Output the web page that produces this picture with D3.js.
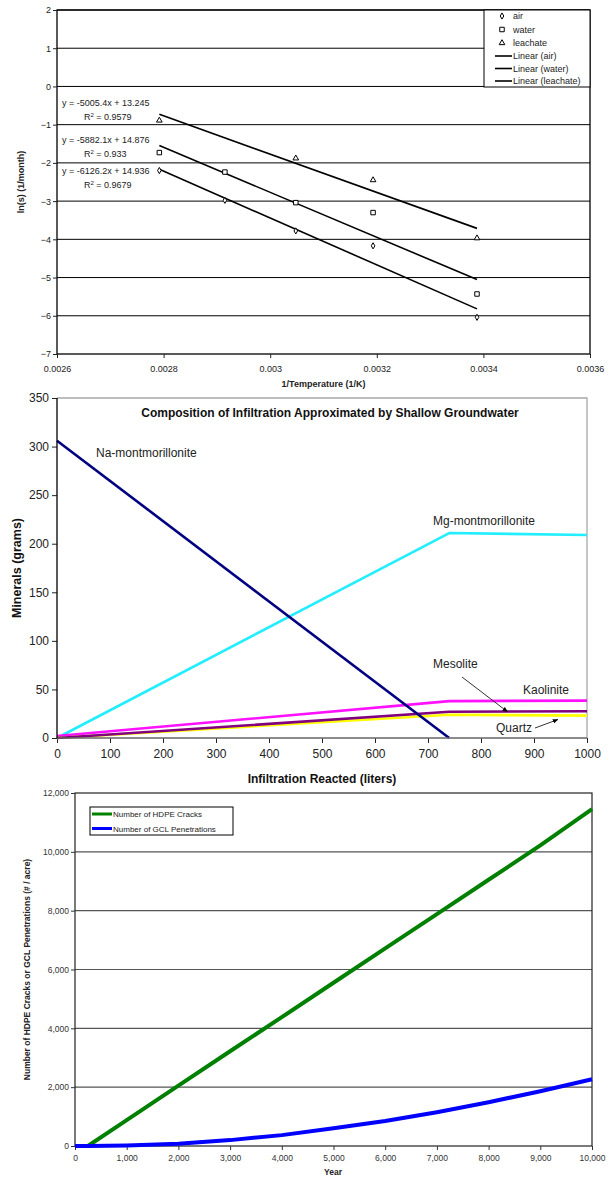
<!DOCTYPE html>
<html lang="en">
<head>
<meta charset="UTF-8">
<title>Rate fits, mineral composition and liner defects</title>
<script src="https://d3js.org/d3.v7.min.js"></script>
<style>
  body { margin: 0; padding: 0; background: #fff; }
  svg { display: block; font-family: "Liberation Sans", Arial, sans-serif; }
  .axis .domain { display: none; }
</style>
</head>
<body>
<svg id="chart" width="616" height="1177"></svg>
<script>
// ---- chart 1: ln(s) vs 1/T
const invTemp = [0.002792, 0.002915, 0.003048, 0.003193, 0.003388];
const airLn = [-2.2, -2.98, -3.78, -4.17, -6.04];
const waterLn = [-1.73, -2.24, -3.04, -3.3, -5.43];
const leachateTemp = [0.002792, 0.003048, 0.003193, 0.003388];
const leachateLn = [-0.89, -1.88, -2.45, -3.97];
const fitNames = ["air", "water", "leachate"];
const fitSlopes = [-6126.2, -5882.1, -5005.4];
const fitIntercepts = [14.936, 14.876, 13.245];
const fitR2 = ["0.9679", "0.933", "0.9579"];
const tempTicks = [0.0026, 0.0028, 0.003, 0.0032, 0.0034, 0.0036];
const lnTicks = [-7, -6, -5, -4, -3, -2, -1, 0, 1, 2];

// ---- chart 2: minerals vs infiltration
const reactedL = [0, 740, 1000];
const naMont = [306, 0];
const mgMont = [0, 211, 209];
const kaolinite = [2, 38, 38.5];
const mesolite = [0, 27, 27.5];
const quartz = [0, 24, 23];
const litreTicks = [0, 100, 200, 300, 400, 500, 600, 700, 800, 900, 1000];
const gramTicks = [0, 50, 100, 150, 200, 250, 300, 350];

// ---- chart 3: cracks / penetrations vs year
const years = [0, 250, 1000, 2000, 3000, 4000, 5000, 6000, 7000, 8000, 9000, 10000];
const hdpeCracks = [0, 0, 880, 2050, 3220, 4380, 5550, 6720, 7880, 9050, 10220, 11450];
const gclPens = [0, 0, 20, 80, 200, 370, 600, 850, 1150, 1490, 1860, 2270];
const yearTicks = [0, 1000, 2000, 3000, 4000, 5000, 6000, 7000, 8000, 9000, 10000];
const countTicks = [0, 2000, 4000, 6000, 8000, 10000, 12000];

const svg = d3.select("#chart");

svg.append("defs").append("marker")
  .attr("id", "arrow")
  .attr("viewBox", "0 0 10 10")
  .attr("refX", 9).attr("refY", 5)
  .attr("markerWidth", 7).attr("markerHeight", 7)
  .attr("orient", "auto")
  .append("path").attr("d", "M0,1 L10,5 L0,9 Z").attr("fill", "#000");

function styleAxis(g, size, color) {
  g.attr("font-family", null).attr("font-size", size);
  g.selectAll("text").attr("fill", color);
  g.selectAll(".tick line").attr("stroke", color);
}

// ================= chart 1 =================
const c1 = { left: 57, right: 590, top: 10, bottom: 354 };
const x1 = d3.scaleLinear().domain([0.0026, 0.0036]).range([c1.left, c1.right]);
const y1 = d3.scaleLinear().domain([-7, 2]).range([c1.bottom, c1.top]);
const g1 = svg.append("g");

g1.selectAll(".grid1").data(lnTicks.filter(d => d > -7)).enter().append("line")
  .attr("x1", c1.left).attr("x2", c1.right)
  .attr("y1", d => y1(d)).attr("y2", d => y1(d))
  .attr("stroke", "#000").attr("stroke-width", 1);
g1.append("rect")
  .attr("x", c1.left).attr("y", c1.top)
  .attr("width", c1.right - c1.left).attr("height", c1.bottom - c1.top)
  .attr("fill", "none").attr("stroke", "#000").attr("stroke-width", 1.3);

g1.append("g").attr("class", "axis")
  .attr("transform", `translate(0,${c1.bottom})`)
  .call(d3.axisBottom(x1).tickValues(tempTicks).tickSize(4).tickPadding(8)
    .tickFormat(d => String(+d.toFixed(4))))
  .call(g => styleAxis(g, 9, "#222"));
g1.append("g").attr("class", "axis")
  .attr("transform", `translate(${c1.left},0)`)
  .call(d3.axisLeft(y1).tickValues(lnTicks).tickSize(4).tickPadding(2))
  .call(g => styleAxis(g, 9, "#222"));

g1.append("text")
  .attr("x", (c1.left + c1.right) / 2).attr("y", 387)
  .attr("text-anchor", "middle").attr("font-size", 9).attr("font-weight", "bold")
  .attr("fill", "#222").text("1/Temperature (1/K)");
g1.append("text")
  .attr("transform", `translate(24,${(c1.top + c1.bottom) / 2}) rotate(-90)`)
  .attr("text-anchor", "middle").attr("font-size", 9).attr("font-weight", "bold")
  .attr("fill", "#222").text("ln(s) (1/month)");

// trend lines
const tExt = d3.extent(invTemp);
fitSlopes.forEach((m, i) => {
  g1.append("line")
    .attr("x1", x1(tExt[0])).attr("y1", y1(m * tExt[0] + fitIntercepts[i]))
    .attr("x2", x1(tExt[1])).attr("y2", y1(m * tExt[1] + fitIntercepts[i]))
    .attr("stroke", "#000").attr("stroke-width", 1.6);
});

// equation labels (leachate, water, air from top)
const eqOrder = [2, 1, 0];
const eqTop = [103, 140, 171];
eqOrder.forEach((k, j) => {
  const sign = fitIntercepts[k] >= 0 ? "+" : "-";
  g1.append("text").attr("x", 62).attr("y", eqTop[j] + 3)
    .attr("font-size", 9).attr("fill", "#222")
    .text(`y = ${fitSlopes[k]}x ${sign} ${Math.abs(fitIntercepts[k])}`);
  const r = g1.append("text").attr("x", 84).attr("y", eqTop[j] + 17)
    .attr("font-size", 9).attr("fill", "#222");
  r.append("tspan").text("R");
  r.append("tspan").attr("dy", -3).attr("font-size", 6).text("2");
  r.append("tspan").attr("dy", 3).text(` = ${fitR2[k]}`);
});

const symDiamond = d3.symbol().type(d3.symbolDiamond).size(11);
const symSquare = d3.symbol().type(d3.symbolSquare).size(20);
const symTriangle = d3.symbol().type(d3.symbolTriangle).size(14);

function drawPoints(xs, ys, sym) {
  g1.append("g").selectAll("path").data(xs).enter().append("path")
    .attr("d", sym)
    .attr("transform", (d, i) => `translate(${x1(d)},${y1(ys[i])})`)
    .attr("fill", "#fff").attr("stroke", "#000").attr("stroke-width", 1);
}
drawPoints(invTemp, airLn, symDiamond);
drawPoints(invTemp, waterLn, symSquare);
drawPoints(leachateTemp, leachateLn, symTriangle);

// legend
const lg1 = g1.append("g");
lg1.append("rect").attr("x", 484).attr("y", c1.top).attr("width", c1.right - 484).attr("height", 77)
  .attr("fill", "#fff").attr("stroke", "#000").attr("stroke-width", 1);
const legSyms = [symDiamond, symSquare, symTriangle];
fitNames.forEach((n, i) => {
  const yy = 16 + i * 13.5;
  lg1.append("path").attr("d", legSyms[i]).attr("transform", `translate(502,${yy})`)
    .attr("fill", "#fff").attr("stroke", "#000");
  lg1.append("text").attr("x", 513).attr("y", yy + 3).attr("font-size", 9).attr("fill", "#222").text(n);
});
fitNames.forEach((n, i) => {
  const yy = 56 + i * 12.5;
  lg1.append("line").attr("x1", 495).attr("x2", 512).attr("y1", yy).attr("y2", yy)
    .attr("stroke", "#000").attr("stroke-width", 1.6);
  lg1.append("text").attr("x", 513).attr("y", yy + 3).attr("font-size", 9).attr("fill", "#222")
    .text(`Linear (${n})`);
});

// ================= chart 2 =================
const c2 = { left: 57, right: 587, top: 398, bottom: 738 };
const x2 = d3.scaleLinear().domain([0, 1000]).range([c2.left, c2.right]);
const y2 = d3.scaleLinear().domain([0, 350]).range([c2.bottom, c2.top]);
const g2 = svg.append("g");

g2.append("path")
  .attr("d", `M${c2.left},${c2.top} H${c2.right} V${c2.bottom}`)
  .attr("fill", "none").attr("stroke", "#a8a8a8").attr("stroke-width", 1.3);

g2.append("g").attr("class", "axis")
  .attr("transform", `translate(0,${c2.bottom})`)
  .call(d3.axisBottom(x2).tickValues(litreTicks).tickSize(5).tickPadding(6).tickFormat(d3.format("d")))
  .call(g => styleAxis(g, 12, "#222"));
g2.append("g").attr("class", "axis")
  .attr("transform", `translate(${c2.left},0)`)
  .call(d3.axisLeft(y2).tickValues(gramTicks).tickSize(5).tickPadding(3))
  .call(g => styleAxis(g, 12, "#222"));

const lineMin = d3.line().x(d => x2(d[0])).y(d => y2(d[1]));
const minerals = [
  { vals: mgMont, color: "#22eeff" },
  { vals: kaolinite, color: "#ff11ff" },
  { vals: quartz, color: "#ffff00" },
  { vals: mesolite, color: "#800080" },
  { vals: naMont, color: "#000080" }
];
minerals.forEach(s => {
  g2.append("path")
    .datum(s.vals.map((v, i) => [reactedL[i], v]))
    .attr("d", lineMin)
    .attr("fill", "none").attr("stroke", s.color).attr("stroke-width", 2.6)
    .attr("stroke-linejoin", "round");
});

g2.append("line")
  .attr("x1", c2.left).attr("x2", c2.right).attr("y1", c2.bottom).attr("y2", c2.bottom)
  .attr("stroke", "#666").attr("stroke-width", 1.6);
g2.append("line")
  .attr("x1", c2.left).attr("x2", c2.left).attr("y1", c2.top).attr("y2", c2.bottom)
  .attr("stroke", "#000").attr("stroke-width", 1.3);

g2.append("text").attr("x", 330).attr("y", 417)
  .attr("text-anchor", "middle").attr("font-size", 12).attr("font-weight", "bold")
  .attr("fill", "#111").text("Composition of Infiltration Approximated by Shallow Groundwater");
g2.append("text").attr("x", 322).attr("y", 783)
  .attr("text-anchor", "middle").attr("font-size", 12).attr("font-weight", "bold")
  .attr("fill", "#111").text("Infiltration Reacted (liters)");
g2.append("text")
  .attr("transform", `translate(21,${(c2.top + c2.bottom) / 2}) rotate(-90)`)
  .attr("text-anchor", "middle").attr("font-size", 12.5).attr("font-weight", "bold")
  .attr("fill", "#111").text("Minerals (grams)");

const lbl = (x, y, t) => g2.append("text").attr("x", x).attr("y", y)
  .attr("font-size", 12).attr("fill", "#222").text(t);
lbl(96, 457, "Na-montmorillonite");
lbl(433, 525, "Mg-montmorillonite");
lbl(433, 668, "Mesolite");
lbl(523, 694, "Kaolinite");
lbl(496, 732, "Quartz");

g2.append("line")
  .attr("x1", 462).attr("y1", 677).attr("x2", x2(850)).attr("y2", y2(27))
  .attr("stroke", "#000").attr("stroke-width", 0.8).attr("marker-end", "url(#arrow)");
g2.append("line")
  .attr("x1", 535).attr("y1", 728).attr("x2", x2(945)).attr("y2", y2(19))
  .attr("stroke", "#000").attr("stroke-width", 0.8).attr("marker-end", "url(#arrow)");

// ================= chart 3 =================
const c3 = { left: 75, right: 592, top: 793, bottom: 1146 };
const x3 = d3.scaleLinear().domain([0, 10000]).range([c3.left, c3.right]);
const y3 = d3.scaleLinear().domain([0, 12000]).range([c3.bottom, c3.top]);
const g3 = svg.append("g");

g3.selectAll(".grid3").data(countTicks.filter(d => d > 0 && d < 12000)).enter().append("line")
  .attr("x1", c3.left).attr("x2", c3.right)
  .attr("y1", d => y3(d)).attr("y2", d => y3(d))
  .attr("stroke", "#555").attr("stroke-width", 1.2);
g3.append("rect")
  .attr("x", c3.left).attr("y", c3.top)
  .attr("width", c3.right - c3.left).attr("height", c3.bottom - c3.top)
  .attr("fill", "none").attr("stroke", "#222").attr("stroke-width", 1.2);

g3.append("g").attr("class", "axis")
  .attr("transform", `translate(0,${c3.bottom})`)
  .call(d3.axisBottom(x3).tickValues(yearTicks).tickSize(4).tickPadding(5).tickFormat(d3.format(",")))
  .call(g => styleAxis(g, 8.5, "#333"));
g3.append("g").attr("class", "axis")
  .attr("transform", `translate(${c3.left},0)`)
  .call(d3.axisLeft(y3).tickValues(countTicks).tickSize(4).tickPadding(2).tickFormat(d3.format(",")))
  .call(g => styleAxis(g, 8.5, "#333"));

const line3 = d3.line().x((d, i) => x3(years[i])).y(d => y3(d));
g3.append("path").datum(hdpeCracks).attr("d", line3)
  .attr("fill", "none").attr("stroke", "#008000").attr("stroke-width", 4);
g3.append("path").datum(gclPens).attr("d", line3)
  .attr("fill", "none").attr("stroke", "#0000ff").attr("stroke-width", 4);

g3.append("text").attr("x", 333).attr("y", 1175)
  .attr("text-anchor", "middle").attr("font-size", 8.5).attr("font-weight", "bold")
  .attr("fill", "#222").text("Year");
g3.append("text")
  .attr("transform", `translate(30,${(c3.top + c3.bottom) / 2}) rotate(-90)`)
  .attr("text-anchor", "middle").attr("font-size", 8.5).attr("font-weight", "bold")
  .attr("fill", "#222").text("Number of HDPE Cracks or GCL Penetrations (# / acre)");

const lg3 = g3.append("g");
lg3.append("rect").attr("x", 90).attr("y", 807).attr("width", 143).attr("height", 28)
  .attr("fill", "#fff").attr("stroke", "#000").attr("stroke-width", 1);
[["Number of HDPE Cracks", "#008000"], ["Number of GCL Penetrations", "#0000ff"]].forEach((d, i) => {
  const yy = 814 + i * 14.5;
  lg3.append("line").attr("x1", 92).attr("x2", 112).attr("y1", yy).attr("y2", yy)
    .attr("stroke", d[1]).attr("stroke-width", 3);
  lg3.append("text").attr("x", 113).attr("y", yy + 3).attr("font-size", 8).attr("fill", "#222").text(d[0]);
});
</script>
</body>
</html>
